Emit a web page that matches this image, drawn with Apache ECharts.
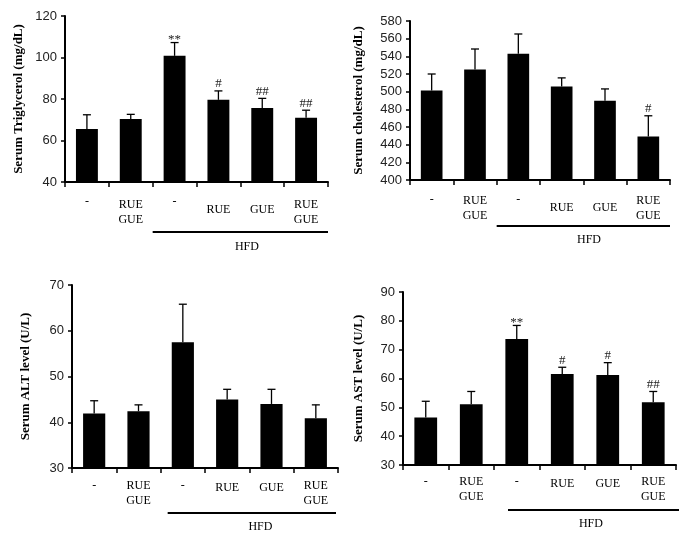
<!DOCTYPE html>
<html><head><meta charset="utf-8">
<script src="https://cdn.jsdelivr.net/npm/echarts@6/dist/echarts.min.js"></script>
<style>html,body{margin:0;padding:0;background:#fff}#c{width:686px;height:542px}</style>
</head><body><div id="c"></div>
<script>
// ---- data ----
const categories = ['-', 'RUE\nGUE', '-', 'RUE', 'GUE', 'RUE\nGUE'];
const groupLabel = 'HFD';
const groupSpan = [2, 5]; // first and last category under HFD

const tgMean = [65.6, 70.4, 100.8, 79.6, 75.7, 71.0];
const tgErr  = [6.8, 2.2, 6.4, 4.3, 4.6, 3.6];
const tgSig  = ['', '', '**', '#', '##', '##'];

const tcMean = [501.3, 525.0, 543.0, 505.8, 489.6, 449.3];
const tcErr  = [18.7, 23.3, 22.3, 9.8, 13.5, 23.4];
const tcSig  = ['', '', '', '', '', '#'];

const altMean = [41.9, 42.4, 57.5, 45.0, 44.0, 40.9];
const altErr  = [2.8, 1.4, 8.3, 2.2, 3.2, 2.9];
const altSig  = ['', '', '', '', '', ''];

const astMean = [46.5, 51.1, 73.7, 61.6, 61.2, 51.8];
const astErr  = [5.6, 4.4, 4.7, 2.3, 4.3, 3.7];
const astSig  = ['', '', '**', '#', '#', '##'];

const yTitles = ['Serum Triglycerol (mg/dL)', 'Serum cholesterol (mg/dL)', 'Serum ALT level (U/L)', 'Serum AST level (U/L)'];
const yMin = [40, 400, 30, 30];
const yMax = [120, 580, 70, 90];
const yStep = [20, 20, 10, 10];

// ---- layout / style ----
const panels = [
  {mean: tgMean, err: tgErr, sig: tgSig, grid: {left: 65, top: 16, width: 263, height: 166}, nameGap: 40, margin: 12, pads: [0, 3, 8.5], hfdLine: 50, hfdText: 65, hfdStart: 0, hfdEnd: 0, hfdTextPos: 4.15},
  {mean: tcMean, err: tcErr, sig: tcSig, grid: {left: 410, top: 21, width: 260, height: 159}, nameGap: 45, margin: 12, pads: [0, 1.5, 8], hfdLine: 46, hfdText: 60, hfdStart: 0, hfdEnd: 0, hfdTextPos: 4.13},
  {mean: altMean, err: altErr, sig: altSig, grid: {left: 72, top: 285, width: 266, height: 183}, nameGap: 40, margin: 10, pads: [0, 0, 2], hfdLine: 45, hfdText: 59, hfdStart: 7, hfdEnd: 2, hfdTextPos: 4.25},
  {mean: astMean, err: astErr, sig: astSig, grid: {left: 403, top: 292, width: 273, height: 173}, nameGap: 38, margin: 9, pads: [0, 0, 2], hfdLine: 45, hfdText: 59, hfdStart: 14, hfdEnd: -3, hfdTextPos: 4.13}
];

const SERIF = '"Liberation Serif", "Times New Roman", serif';
const SANS = '"Liberation Sans", Arial, sans-serif';

const grids = [], xAxes = [], yAxes = [], series = [];
panels.forEach((p, i) => {
  grids.push(Object.assign({outerBoundsMode: 'none', containLabel: false}, p.grid));
  xAxes.push({
    type: 'category', gridIndex: i,
    data: categories.map(c => ({
      value: c,
      textStyle: {padding: [c === '-' ? p.pads[0] : (c.indexOf('\n') >= 0 ? p.pads[1] : p.pads[2]), 0, 0, 0]}
    })),
    axisLine: {lineStyle: {color: '#000', width: 2}},
    axisTick: {show: true, inside: false, length: 5, alignWithLabel: false, lineStyle: {color: '#000', width: 1.5}},
    axisLabel: {interval: 0, margin: p.margin, fontFamily: SERIF, fontSize: 12, lineHeight: 15, color: '#000'},
    splitLine: {show: false}
  });
  yAxes.push({
    type: 'value', gridIndex: i, min: yMin[i], max: yMax[i], interval: yStep[i],
    name: yTitles[i], nameLocation: 'middle', nameGap: p.nameGap, nameRotate: 90,
    nameTextStyle: {fontFamily: SERIF, fontWeight: 'bold', fontSize: 13, color: '#000'},
    axisLine: {show: true, lineStyle: {color: '#000', width: 2}},
    axisTick: {show: true, inside: false, length: 4, lineStyle: {color: '#000', width: 1.5}},
    axisLabel: {margin: 8, fontFamily: SANS, fontSize: 13, color: '#222'},
    splitLine: {show: false}
  });
  series.push({
    type: 'bar', xAxisIndex: i, yAxisIndex: i, barWidth: '50%',
    data: p.mean, itemStyle: {color: '#000'}, silent: true
  });
  series.push({
    type: 'custom', xAxisIndex: i, yAxisIndex: i, silent: true, clip: false, z: 5,
    data: p.mean.map((m, k) => [k, m, p.err[k]]),
    encode: {x: 0, y: 1},
    renderItem: function (params, api) {
      const k = api.value(0), m = api.value(1), e = api.value(2);
      const base = api.coord([k, m]);
      const top = api.coord([k, m + e]);
      const children = [
        {type: 'line', shape: {x1: base[0], y1: base[1], x2: top[0], y2: top[1]}, style: {stroke: '#000', lineWidth: 1.3}},
        {type: 'line', shape: {x1: top[0] - 4, y1: top[1], x2: top[0] + 4, y2: top[1]}, style: {stroke: '#000', lineWidth: 1.3}}
      ];
      const s = p.sig[k];
      if (s) {
        children.push({type: 'text', x: top[0], y: top[1] - (s.indexOf('*') >= 0 ? 3 : 7),
          style: {text: s, fill: '#222', font: '13px ' + SERIF, align: 'center', verticalAlign: 'middle'}});
      }
      return {type: 'group', children: children};
    }
  });
  series.push({
    type: 'custom', xAxisIndex: i, yAxisIndex: i, silent: true, clip: false, z: 5,
    data: [[groupSpan[0], groupSpan[1], yMin[i]]],
    encode: {x: [0, 1], y: 2},
    renderItem: function (params, api) {
      const cs = params.coordSys;
      const bw = api.size([1, 0])[0];
      const c0 = api.coord([api.value(0), api.value(2)]);
      const c1 = api.coord([api.value(1), api.value(2)]);
      const x0 = c0[0] - bw / 2 + p.hfdStart;
      const x1 = c1[0] + bw / 2 - p.hfdEnd;
      const axisY = cs.y + cs.height;
      const tx = cs.x + p.hfdTextPos * bw;
      return {type: 'group', children: [
        {type: 'line', shape: {x1: x0, y1: axisY + p.hfdLine, x2: x1, y2: axisY + p.hfdLine}, style: {stroke: '#000', lineWidth: 2}},
        {type: 'text', x: tx, y: axisY + p.hfdText, style: {text: groupLabel, fill: '#000', font: '12px ' + SERIF, align: 'center', verticalAlign: 'middle'}}
      ]};
    }
  });
});

const chart = echarts.init(document.getElementById('c'), null, {renderer: 'canvas'});
chart.setOption({
  animation: false,
  backgroundColor: '#fff',
  grid: grids, xAxis: xAxes, yAxis: yAxes, series: series
});
</script>
</body></html>
